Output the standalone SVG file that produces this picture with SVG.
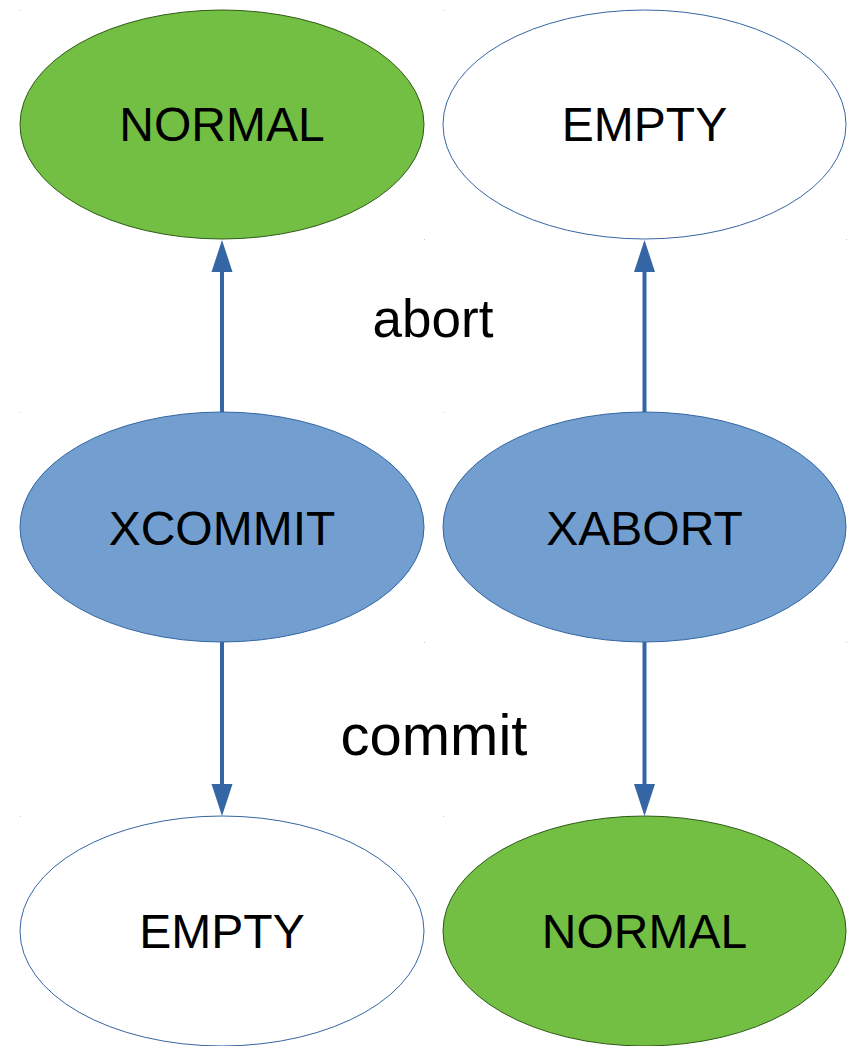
<svg xmlns="http://www.w3.org/2000/svg" width="851" height="1046" viewBox="0 0 851 1046">
<style>
.green{fill:#72bf44;stroke:#2f5a17;stroke-width:1}
.white{fill:#ffffff;stroke:#3465a4;stroke-width:1}
.blue{fill:#729fcf;stroke:#3465a4;stroke-width:1}
.lbl{font-family:"Liberation Sans",Arial,sans-serif;font-size:48px;fill:#000;text-anchor:middle}
.edge{font-family:"Liberation Sans",Arial,sans-serif;fill:#000;text-anchor:middle}
.conn{stroke:#3465a4;stroke-width:4;fill:none}
.head{fill:#3465a4}
.dot{fill:#c8c8c8}
</style>
<rect width="851" height="1046" fill="#ffffff"/>
<g id="marks">
<rect class="dot" x="20" y="10" width="1" height="1"/>
<rect class="dot" x="443" y="10" width="1" height="1"/>
<rect class="dot" x="424" y="239" width="1" height="1"/>
<rect class="dot" x="846" y="239" width="1" height="1"/>
<rect class="dot" x="20" y="412" width="1" height="1"/>
<rect class="dot" x="443" y="412" width="1" height="1"/>
<rect class="dot" x="424" y="642" width="1" height="1"/>
<rect class="dot" x="846" y="642" width="1" height="1"/>
<rect class="dot" x="20" y="816" width="1" height="1"/>
<rect class="dot" x="443" y="816" width="1" height="1"/>
</g>
<g id="connectors">
<line class="conn" x1="222" y1="412" x2="222" y2="268"/>
<polygon class="head" points="222,240 211.5,272 232.5,272"/>
<line class="conn" x1="644.5" y1="412" x2="644.5" y2="268"/>
<polygon class="head" points="644.5,240 634,272 655,272"/>
<line class="conn" x1="222" y1="642" x2="222" y2="788"/>
<polygon class="head" points="222,816 211.5,784 232.5,784"/>
<line class="conn" x1="644.5" y1="642" x2="644.5" y2="788"/>
<polygon class="head" points="644.5,816 634,784 655,784"/>
<text class="edge" x="433" y="337" font-size="53">abort</text>
<text class="edge" x="434" y="755" font-size="58">commit</text>
</g>
<g id="normal-top">
<ellipse class="green" cx="222" cy="124.5" rx="202" ry="114.5"/>
<text class="lbl" x="222" y="141">NORMAL</text>
</g>
<g id="empty-top">
<ellipse class="white" cx="644.5" cy="124.5" rx="201.5" ry="114.5"/>
<text class="lbl" x="644.5" y="141">EMPTY</text>
</g>
<g id="xcommit">
<ellipse class="blue" cx="222" cy="527" rx="202" ry="115"/>
<text class="lbl" x="222" y="545">XCOMMIT</text>
</g>
<g id="xabort">
<ellipse class="blue" cx="644.5" cy="527" rx="201.5" ry="115"/>
<text class="lbl" x="644.5" y="545">XABORT</text>
</g>
<g id="empty-bottom">
<ellipse class="white" cx="222" cy="931" rx="202" ry="115"/>
<text class="lbl" x="222" y="948">EMPTY</text>
</g>
<g id="normal-bottom">
<ellipse class="green" cx="644.5" cy="931" rx="201.5" ry="115"/>
<text class="lbl" x="644.5" y="948">NORMAL</text>
</g>
</svg>
